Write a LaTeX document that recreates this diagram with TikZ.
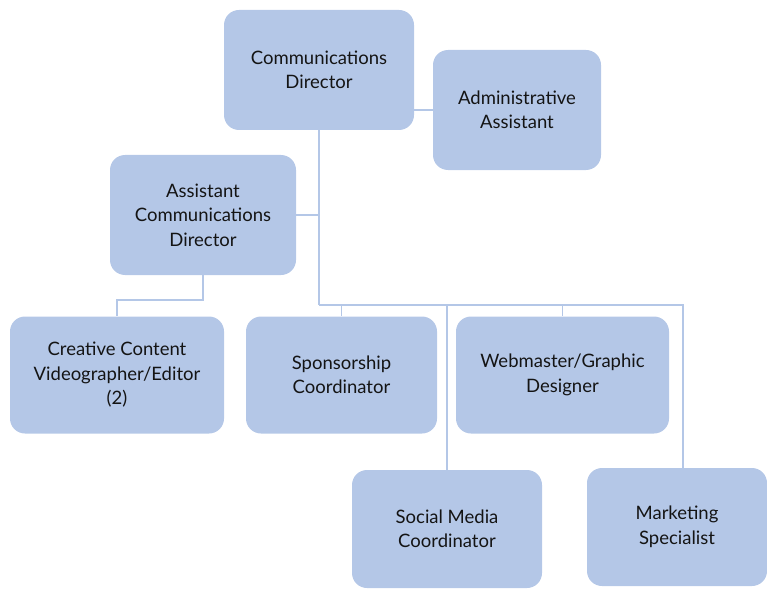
\documentclass[tikz,border=0pt]{standalone}
\usepackage{fontspec}
\setmainfont{Lato}
\usetikzlibrary{calc}
\definecolor{boxfill}{HTML}{B4C7E7}
\definecolor{linecol}{HTML}{B4C7E7}
\definecolor{txt}{HTML}{141414}
\tikzset{
  posbox/.style={rectangle, rounded corners=15pt, fill=boxfill, draw=none,
    align=center, text=txt, font=\fontsize{18.5}{24.5}\selectfont, inner sep=0pt},
  conn/.style={draw=linecol, line width=1.5pt}
}
\begin{document}
\begin{tikzpicture}[x=1pt,y=-1pt]
\useasboundingbox (0,0) rectangle (767,588);
\node[posbox, minimum width=190pt, minimum height=120pt] (CD) at (319,70) {Communications\\Director};
\node[posbox, minimum width=168pt, minimum height=120pt] (AA) at (517,110) {Administrative\\Assistant};
\node[posbox, minimum width=186pt, minimum height=120pt] (ACD) at (203,215) {Assistant\\Communications\\Director};
\node[posbox, minimum width=214pt, minimum height=117pt] (CC) at (117,375) {Creative Content\\Videographer/Editor\\(2)};
\node[posbox, minimum width=191pt, minimum height=117pt] (SP) at (341.5,375) {Sponsorship\\Coordinator};
\node[posbox, minimum width=213pt, minimum height=117pt] (WM) at (562.5,375) {Webmaster/Graphic\\Designer};
\node[posbox, minimum width=190pt, minimum height=118pt] (SM) at (447,529) {Social Media\\Coordinator};
\node[posbox, minimum width=180pt, minimum height=118pt] (MS) at (677,527) {Marketing\\Specialist};
\coordinate (b0) at (319,305);
\coordinate (b1) at (683,305);
\draw[conn] (CD.east |- AA.west) -- (AA.west);
\draw[conn] (CD.south) -- (b0);
\draw[conn] (ACD.east) -- (ACD.east -| CD.south);
\draw[conn] (ACD.south) -- ++(0,25) -| (CC.north);
\draw[conn] (b0) -- (b1) -- (b1 |- MS.north);
\draw[conn] (b0) -| (SP.north);
\draw[conn] (b0) -| (WM.north);
\draw[conn] (b0) -| (SM.north);
\end{tikzpicture}
\end{document}
